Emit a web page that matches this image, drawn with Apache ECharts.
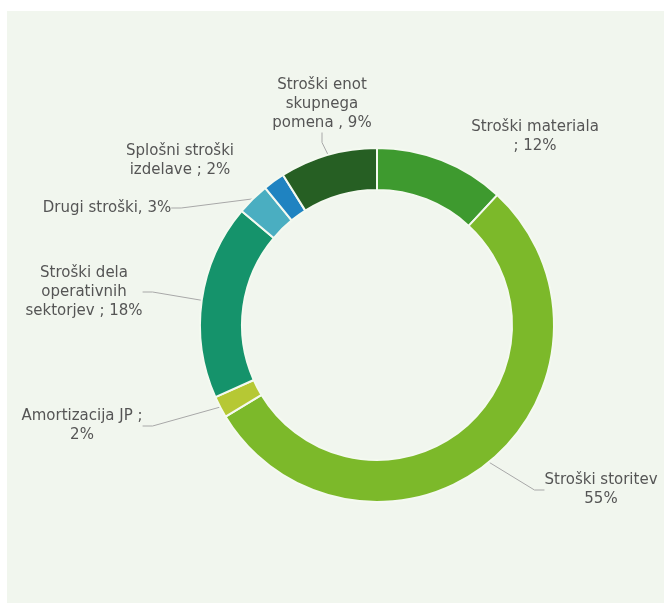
<!DOCTYPE html>
<html>
<head>
<meta charset="utf-8">
<script src="https://cdn.jsdelivr.net/npm/echarts@6/dist/echarts.min.js"></script>
<style>
  body { margin: 0; background: #fff; }
  #chart { position: absolute; left: 7px; top: 11px; width: 657px; height: 592px; background: #f1f6ee; }
</style>
</head>
<body>
<div id="chart"></div>
<script>
const categories = [
  'Stroški materiala',
  'Stroški storitev',
  'Amortizacija JP',
  'Stroški dela operativnih sektorjev',
  'Drugi stroški',
  'Splošni stroški izdelave',
  'Stroški enot skupnega pomena',
]
const values = [12, 55, 2, 18, 3, 2, 9]
const labelTexts = [
  'Stroški materiala\n; 12%',
  'Stroški storitev\n55%',
  'Amortizacija JP ;\n2%',
  'Stroški dela\noperativnih\nsektorjev ; 18%',
  'Drugi stroški, 3%',
  'Splošni stroški\nizdelave ; 2%',
  'Stroški enot\nskupnega\npomena , 9%',
]
const colors = ['#3e9a2f', '#7cb92a', '#b6c834', '#15936b', '#4aaec1', '#1f83c1', '#265f23']
const showLine = [false, true, true, true, true, false, true]
// label centres, chart coordinates
const labelPos = [[528, 126], [594, 479], [75, 415], [77, 281], [100, 197], [173, 150], [315, 93]]

const chart = echarts.init(document.getElementById('chart'))
chart.setOption({
  animation: false,
  series: [
    {
      type: 'pie',
      center: [370, 314],
      radius: [135, 177],
      startAngle: 90,
      clockwise: true,
      itemStyle: { borderColor: '#f4f9f0', borderWidth: 2 },
      label: {
        show: true,
        position: 'outside',
        color: '#555',
        fontFamily: 'DejaVu Sans',
        fontSize: 15,
        lineHeight: 19,
        align: 'center',
        formatter: (p) => labelTexts[p.dataIndex],
      },
      labelLine: { show: true, length: 10, length2: 10, lineStyle: { color: '#a8a8a8', width: 1 } },
      labelLayout: (p) => ({
        x: labelPos[p.dataIndex][0],
        y: labelPos[p.dataIndex][1],
        align: 'center',
        verticalAlign: 'middle',
      }),
      data: categories.map((name, i) => ({
        name,
        value: values[i],
        itemStyle: { color: colors[i] },
        labelLine: { show: showLine[i] },
      })),
    },
  ],
})
</script>
</body>
</html>
